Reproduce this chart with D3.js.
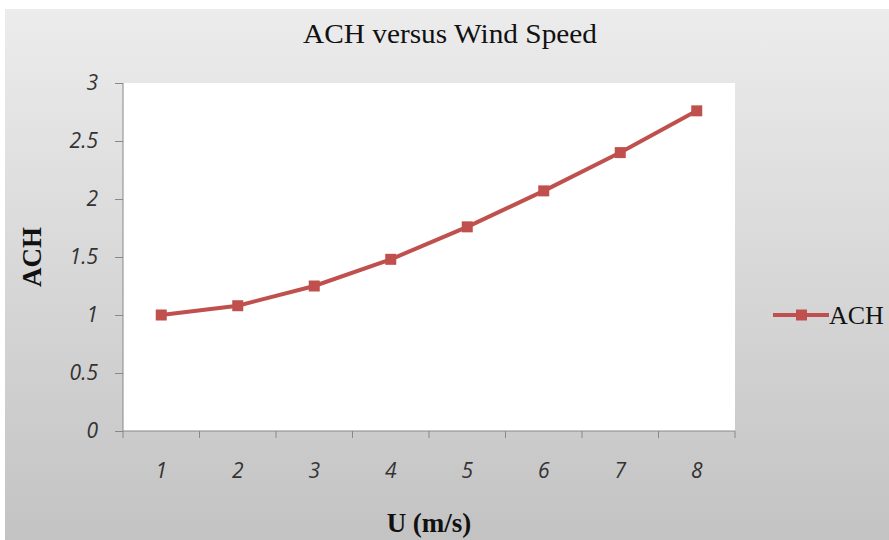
<!DOCTYPE html>
<html>
<head>
<meta charset="utf-8">
<script src="https://cdn.jsdelivr.net/npm/d3@7"></script>
<style>
  body { margin: 0; background: #fff; }
  svg { display: block; }
</style>
</head>
<body>
<script>
// chart data
const categories = ["1", "2", "3", "4", "5", "6", "7", "8"];
const achValues = [1.0, 1.08, 1.25, 1.48, 1.76, 2.07, 2.40, 2.76];
const yTicks = [0, 0.5, 1, 1.5, 2, 2.5, 3];

const width = 889, height = 540;
const margin = {top: 83, right: 154, bottom: 109, left: 123};
const serif = "'Liberation Serif', 'DejaVu Serif', serif";
const sans = "'Open Sans', 'DejaVu Sans', sans-serif";

const svg = d3.select("body").append("svg")
  .attr("width", width)
  .attr("height", height);

// gray gradient background
const grad = svg.append("defs").append("linearGradient")
  .attr("id", "bg").attr("x1", 0).attr("y1", 0).attr("x2", 0).attr("y2", 1);
grad.append("stop").attr("offset", "0%").attr("stop-color", "#ececec");
grad.append("stop").attr("offset", "100%").attr("stop-color", "#c3c3c3");

svg.append("rect")
  .attr("x", 5).attr("y", 9)
  .attr("width", width - 5).attr("height", height - 9)
  .attr("fill", "url(#bg)");

const x = d3.scaleBand()
  .domain(categories)
  .range([margin.left, width - margin.right]);

const y = d3.scaleLinear()
  .domain([0, 3])
  .range([height - margin.bottom, margin.top]);

// plot area
svg.append("rect")
  .attr("x", margin.left).attr("y", margin.top)
  .attr("width", x.range()[1] - x.range()[0])
  .attr("height", y(0) - y(3))
  .attr("fill", "#fff");

// y axis
const yAxis = svg.append("g")
  .attr("transform", "translate(" + margin.left + ",0)")
  .call(d3.axisLeft(y).tickValues(yTicks).tickSize(8).tickPadding(17)
    .tickFormat(d3.format("")));
yAxis.select(".domain").attr("stroke", "#888").attr("d",
  "M0," + y(3) + "V" + y(0));
yAxis.selectAll(".tick line").attr("stroke", "#888");
yAxis.selectAll("text")
  .attr("font-family", sans)
  .attr("font-style", "italic")
  .attr("font-size", 21)
  .attr("fill", "#333");

// x axis with ticks on category boundaries
const xAxisG = svg.append("g")
  .attr("transform", "translate(0," + y(0) + ")");
xAxisG.append("line")
  .attr("x1", x.range()[0]).attr("x2", x.range()[1])
  .attr("stroke", "#888");
const bounds = categories.map(c => x(c)).concat([x.range()[1]]);
xAxisG.selectAll(".bt").data(bounds).enter().append("line")
  .attr("x1", d => d).attr("x2", d => d)
  .attr("y1", 0).attr("y2", 7)
  .attr("stroke", "#888");
xAxisG.selectAll(".lbl").data(categories).enter().append("text")
  .attr("x", d => x(d) + x.bandwidth() / 2)
  .attr("y", 47)
  .attr("text-anchor", "middle")
  .attr("font-family", sans)
  .attr("font-style", "italic")
  .attr("font-size", 21)
  .attr("fill", "#333")
  .text(d => d);

// line series
const line = d3.line()
  .x((d, i) => x(categories[i]) + x.bandwidth() / 2)
  .y(d => y(d));

svg.append("path")
  .datum(achValues)
  .attr("d", line)
  .attr("fill", "none")
  .attr("stroke", "#c0504d")
  .attr("stroke-width", 4);

svg.selectAll(".mk").data(achValues).enter().append("rect")
  .attr("x", (d, i) => x(categories[i]) + x.bandwidth() / 2 - 5.5)
  .attr("y", d => y(d) - 5.5)
  .attr("width", 11).attr("height", 11)
  .attr("fill", "#c0504d");

// title and axis labels
svg.append("text")
  .attr("x", 450).attr("y", 43)
  .attr("text-anchor", "middle")
  .attr("font-family", serif)
  .attr("font-size", 27)
  .attr("textLength", 294)
  .attr("lengthAdjust", "spacingAndGlyphs")
  .attr("fill", "#111")
  .text("ACH versus Wind Speed");

svg.append("text")
  .attr("transform", "translate(41,257) rotate(-90)")
  .attr("text-anchor", "middle")
  .attr("font-family", serif)
  .attr("font-weight", "bold")
  .attr("font-size", 27)
  .attr("fill", "#111")
  .text("ACH");

svg.append("text")
  .attr("x", 429).attr("y", 532)
  .attr("text-anchor", "middle")
  .attr("font-family", serif)
  .attr("font-weight", "bold")
  .attr("font-size", 27)
  .attr("fill", "#111")
  .text("U (m/s)");

// legend
const lg = svg.append("g").attr("transform", "translate(773," + y(1) + ")");
lg.append("line").attr("x1", 0).attr("x2", 56)
  .attr("stroke", "#c0504d").attr("stroke-width", 4);
lg.append("rect").attr("x", 23).attr("y", -5.5).attr("width", 11).attr("height", 11)
  .attr("fill", "#c0504d");
lg.append("text").attr("x", 56).attr("y", 9)
  .attr("font-family", serif)
  .attr("font-size", 26)
  .attr("fill", "#111")
  .text("ACH");
</script>
</body>
</html>
